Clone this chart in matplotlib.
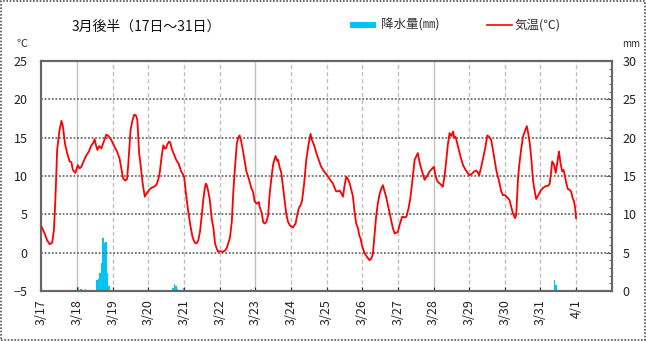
import numpy as np
import matplotlib
matplotlib.use('Agg')
import matplotlib.pyplot as plt
from matplotlib.patches import Rectangle
from matplotlib.lines import Line2D

plt.rcParams['font.family'] = ['Noto Sans CJK JP', 'DejaVu Sans']

# x ticks: days since 3/17 00:00
day_labels = ['3/17', '3/18', '3/19', '3/20', '3/21', '3/22', '3/23', '3/24',
              '3/25', '3/26', '3/27', '3/28', '3/29', '3/30', '3/31', '4/1']

# temperature (days since 3/17 0:00, degC)
temp_day = [0.00, 0.08, 0.16, 0.23, 0.30, 0.35, 0.39, 0.44, 0.50, 0.56, 0.60, 0.66, 0.72, 0.79, 0.84, 0.88, 0.95,
            1.02, 1.07, 1.12, 1.19, 1.26, 1.33, 1.40, 1.45, 1.49, 1.53, 1.57, 1.62, 1.68, 1.75, 1.82, 1.88, 1.96,
            2.05, 2.12, 2.19, 2.24, 2.29, 2.35, 2.40, 2.43, 2.47, 2.50, 2.55, 2.60, 2.65, 2.69, 2.74, 2.78, 2.84,
            2.90, 2.96, 3.04, 3.10, 3.16, 3.23, 3.28, 3.32, 3.37, 3.42, 3.46, 3.49, 3.53, 3.58, 3.61, 3.66, 3.72,
            3.78, 3.85, 3.92, 3.96, 4.00, 4.06, 4.12, 4.18, 4.24, 4.30, 4.35, 4.40, 4.45, 4.50, 4.54, 4.58, 4.61,
            4.64, 4.68, 4.72, 4.78, 4.82, 4.87, 4.92, 4.96, 5.02, 5.09, 5.15, 5.20, 5.24, 5.29, 5.34, 5.38, 5.42,
            5.48, 5.52, 5.56, 5.60, 5.65, 5.70, 5.75, 5.82, 5.89, 5.94, 5.98, 6.04, 6.10, 6.12, 6.18, 6.22, 6.26,
            6.31, 6.36, 6.40, 6.45, 6.50, 6.54, 6.57, 6.61, 6.64, 6.68, 6.73, 6.78, 6.82, 6.87, 6.92, 6.98, 7.06,
            7.13, 7.18, 7.22, 7.27, 7.31, 7.37, 7.43, 7.49, 7.55, 7.58, 7.65, 7.72, 7.78, 7.84, 7.90, 7.96, 8.02,
            8.10, 8.18, 8.22, 8.27, 8.32, 8.37, 8.42, 8.46, 8.50, 8.55, 8.60, 8.65, 8.70, 8.74, 8.78, 8.83, 8.88,
            8.92, 8.95, 9.00, 9.07, 9.14, 9.21, 9.26, 9.30, 9.35, 9.39, 9.44, 9.49, 9.53, 9.58, 9.62, 9.67, 9.73,
            9.81, 9.86, 9.91, 9.95, 10.00, 10.06, 10.12, 10.18, 10.24, 10.30, 10.35, 10.41, 10.47, 10.51, 10.56,
            10.60, 10.63, 10.68, 10.75, 10.82, 10.89, 10.95, 11.01, 11.06, 11.11, 11.18, 11.26, 11.31, 11.36,
            11.40, 11.45, 11.50, 11.55, 11.58, 11.62, 11.69, 11.76, 11.83, 11.90, 11.96, 12.01, 12.08, 12.14,
            12.20, 12.24, 12.28, 12.33, 12.39, 12.45, 12.51, 12.56, 12.62, 12.69, 12.76, 12.83, 12.90, 12.95,
            13.01, 13.07, 13.13, 13.18, 13.23, 13.29, 13.32, 13.37, 13.40, 13.46, 13.51, 13.56, 13.62, 13.66,
            13.70, 13.75, 13.79, 13.84, 13.88, 13.94, 14.02, 14.09, 14.16, 14.21, 14.26, 14.30, 14.33, 14.38,
            14.43, 14.48, 14.52, 14.56, 14.61, 14.65, 14.68, 14.73, 14.77, 14.82, 14.86, 14.90, 14.94, 14.97, 15.00]
temp_val = [3.4, 2.6, 1.6, 1.1, 1.3, 3.0, 6.9, 13.4, 15.8, 17.2, 16.5, 14.2, 13.0, 11.9, 11.8, 10.8, 10.4,
            11.4, 11.0, 11.2, 12.0, 12.7, 13.2, 14.0, 14.3, 14.8, 14.0, 13.4, 13.9, 13.6, 14.5, 15.4, 15.2, 14.7,
            13.8, 13.2, 12.3, 11.0, 9.7, 9.4, 9.6, 11.2, 14.0, 16.0, 17.2, 18.0, 17.9, 17.3, 13.0, 11.5, 9.0,
            7.3, 7.8, 8.3, 8.5, 8.6, 8.9, 9.6, 10.5, 12.5, 14.0, 13.6, 13.6, 14.1, 14.5, 14.4, 13.5, 12.8,
            12.1, 11.6, 10.6, 10.3, 10.0, 7.5, 5.3, 3.5, 2.0, 1.3, 1.2, 1.6, 2.8, 5.0, 6.9, 8.3, 9.0,
            8.8, 8.0, 7.0, 4.3, 3.4, 1.2, 0.5, 0.1, 0.2, 0.1, 0.3, 0.6, 1.2, 2.0, 4.0, 7.7, 10.5,
            14.2, 15.0, 15.3, 14.6, 13.4, 12.0, 10.6, 9.6, 8.4, 7.9, 6.7, 6.4, 6.6, 6.0, 5.2, 4.0, 3.8,
            4.0, 4.9, 7.5, 9.7, 11.5, 12.2, 12.6, 12.0, 12.1, 11.2, 10.4, 8.5, 6.9, 5.0, 4.0, 3.5, 3.3,
            3.8, 5.0, 5.8, 6.2, 6.7, 9.0, 12.1, 14.0, 15.5, 14.8, 14.0, 12.9, 12.1, 11.3, 10.8, 10.4, 10.1,
            9.5, 9.0, 8.5, 8.0, 8.0, 8.1, 7.7, 7.3, 8.6, 9.9, 9.6, 9.0, 8.1, 7.3, 5.5, 3.8, 3.2,
            2.2, 1.9, 0.8, -0.1, -0.6, -1.0, -0.7, -0.1, 2.5, 4.7, 6.5, 7.7, 8.3, 8.8, 8.1, 7.3, 6.0,
            4.3, 3.2, 2.5, 2.6, 2.7, 3.8, 4.7, 4.6, 4.7, 5.8, 7.1, 9.5, 12.1, 12.5, 13.0,
            12.0, 11.4, 10.6, 9.5, 10.0, 10.6, 10.9, 11.2, 10.0, 9.3, 9.0, 8.6, 10.0, 12.1,
            14.0, 15.6, 15.2, 15.8, 15.0, 15.1, 13.8, 12.5, 11.4, 10.8, 10.4, 10.1, 10.3, 10.6,
            10.7, 10.5, 10.1, 11.0, 12.3, 13.6, 15.3, 15.1, 14.7, 12.8, 10.8, 9.5, 8.0, 7.5,
            7.5, 7.2, 6.9, 6.0, 5.1, 4.5, 4.9, 9.5, 11.2, 13.5, 15.1, 15.8, 16.5, 15.5,
            14.3, 12.0, 9.5, 8.0, 7.0, 7.5, 8.2, 8.5, 8.7, 8.7, 9.0, 10.5, 11.9, 11.5,
            10.4, 12.0, 13.2, 11.8, 10.6, 10.8, 10.1, 9.0, 8.3, 8.2, 8.0, 7.2, 6.7, 6.0, 4.5]

# hourly precipitation (hour since 3/17 0:00, mm)
rain_hour = [24, 26, 29, 37, 38, 39, 40, 41, 42, 43, 44, 45, 88, 89, 90, 91, 95, 141, 345, 346]
rain_mm = [0.5, 0.3, 0.3, 1.4, 1.6, 2.3, 3.6, 6.9, 6.2, 6.4, 2.3, 0.6, 0.4, 0.9, 0.6, 0.3, 0.4, 0.3, 1.4, 0.8]


def main():
    fig = plt.figure(figsize=(6.46, 3.41), dpi=100)
    ax = fig.add_axes([0.0642, 0.1466, 0.8827, 0.6745])
    ax2 = ax.twinx()
    ax.set_zorder(ax2.get_zorder() + 1)
    ax.patch.set_visible(False)

    rx = np.array(rain_hour) / 24.0
    ax2.bar(rx, rain_mm, width=1 / 24.0, align='edge', color='#00c4f4', linewidth=0)
    ax2.set_ylim(0, 30)
    ax2.set_yticks(np.arange(0, 31, 5))
    ax2.set_yticks(np.arange(0, 31, 1), minor=True)
    ax2.tick_params(axis='y', which='major', direction='in', length=4, color='#555555',
                    labelsize=9, labelcolor='#222222', pad=8)
    ax2.tick_params(axis='y', which='minor', direction='in', length=2, color='#555555')

    ax.plot(temp_day, temp_val, color='#ff0000', lw=1.3, zorder=5)
    ax.set_xlim(0, 16)
    ax.set_ylim(-5, 25)
    ax.set_yticks(np.arange(-5, 26, 5))
    ax.tick_params(axis='y', length=0, labelsize=9, labelcolor='#222222', pad=10)
    for v in range(0, 21, 5):
        ax.axhline(v, color='#6e6e6e', lw=1.3, ls=(0, (1, 1)), zorder=2)
    for i in range(1, 16):
        if i in (1, 6, 11):
            ax.axvline(i, color='#c0c0c0', lw=1.0, zorder=1)
        else:
            ax.axvline(i, color='#c0c0c0', lw=1.0, ls=(0, (3, 2)), zorder=1)
    ax.set_xticks(range(16))
    ax.set_xticklabels(day_labels, rotation=90, fontsize=9, color='#222222')
    ax.tick_params(axis='x', direction='in', length=3, color='#333333', pad=6)

    for a in (ax, ax2):
        for s in a.spines.values():
            s.set_color('#666666')
            s.set_linewidth(1.5)

    # titles and legend
    fig.text(72 / 646, 1 - 27 / 341, '3月後半（17日～31日）', fontsize=10, va='center', ha='left', color='#111111')
    fig.text(22 / 646, 1 - 44 / 341, '℃', fontsize=8, va='center', ha='center', color='#333333')
    fig.text(631 / 646, 1 - 44 / 341, 'mm', fontsize=7, va='center', ha='center', color='#333333')
    fig.add_artist(Rectangle((350 / 646, 1 - 28 / 341), 26 / 646, 6 / 341, transform=fig.transFigure,
                             color='#00c4f4', lw=0))
    fig.text(381 / 646, 1 - 25 / 341, '降水量(㎜)', fontsize=9, va='center', ha='left', color='#333333')
    fig.add_artist(Line2D([487 / 646, 512 / 646], [1 - 25 / 341, 1 - 25 / 341], transform=fig.transFigure,
                          color='#ff0000', lw=1.2))
    fig.text(515 / 646, 1 - 25 / 341, '気温(℃)', fontsize=9, va='center', ha='left', color='#333333')

    fig.add_artist(Rectangle((0.001, 0.002), 0.997, 0.995, transform=fig.transFigure, fill=False,
                             ec='#555555', lw=1.2, ls=(0, (1, 1))))

    fig.savefig('out.png', dpi=100)


if __name__ == '__main__':
    main()
